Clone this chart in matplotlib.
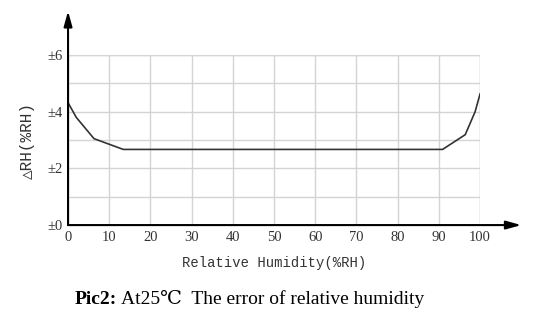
import matplotlib
matplotlib.use("Agg")
import matplotlib.pyplot as plt

# values
humidity = [0, 2, 6.3, 13.4, 90.9, 96.4, 98.8, 100]
error = [4.32, 3.8, 3.05, 2.67, 2.67, 3.19, 4.0, 4.63]

x_ticks = [0, 10, 20, 30, 40, 50, 60, 70, 80, 90, 100]
y_ticks = [0, 2, 4, 6]
y_tick_labels = ["±0", "±2", "±4", "±6"]

serif = ["Liberation Serif", "DejaVu Serif"]
mono = ["Liberation Mono", "DejaVu Sans Mono", "DejaVu Sans"]

fig = plt.figure(figsize=(5.4, 3.22), dpi=100)
ax = fig.add_axes([0.126, 0.301, 0.763, 0.528])

ax.plot(humidity, error, color="#333333", lw=1.2, zorder=3)

ax.set_xlim(0, 100)
ax.set_ylim(0, 6)
ax.set_xticks(x_ticks)
ax.set_yticks(y_ticks)
ax.set_yticks(range(0, 7), minor=True)
ax.set_xticklabels([str(t) for t in x_ticks], family=serif, fontsize=10.5, color="#333333")
ax.set_yticklabels(y_tick_labels, family=serif, fontsize=10.5, color="#333333")
ax.tick_params(axis="both", which="both", length=0, pad=4)

ax.grid(True, which="both", color="#d4d4d4", lw=1.0)
for side in ["top", "right", "left", "bottom"]:
    ax.spines[side].set_visible(False)

# right and top edges of the grid
ax.axvline(100, color="#d4d4d4", lw=1.0)
ax.axhline(6, color="#d4d4d4", lw=1.0)

# arrow axes
ax.annotate("", xy=(0, 7.55), xytext=(0, 0), annotation_clip=False,
            arrowprops=dict(arrowstyle="-|>,head_length=0.9,head_width=0.25",
                            color="black", lw=1.5, shrinkA=0, shrinkB=0))
ax.annotate("", xy=(110, 0), xytext=(0, 0), annotation_clip=False,
            arrowprops=dict(arrowstyle="-|>,head_length=0.9,head_width=0.25",
                            color="black", lw=1.5, shrinkA=0, shrinkB=0))

ax.set_xlabel("Relative Humidity(%RH)", family=mono, fontsize=10, color="#333333", labelpad=9)
ax.set_ylabel("△RH(%RH)", family=mono, fontsize=11.5, color="#333333", labelpad=9)

fig.text(0.139, 0.07, "Pic2:", family=serif, fontsize=14, fontweight="bold",
         ha="left", va="center", color="black")
fig.text(0.224, 0.07, "At25℃  The error of relative humidity", family=serif,
         fontsize=14, ha="left", va="center", color="black")

fig.savefig("out.png", dpi=100, facecolor="white")
